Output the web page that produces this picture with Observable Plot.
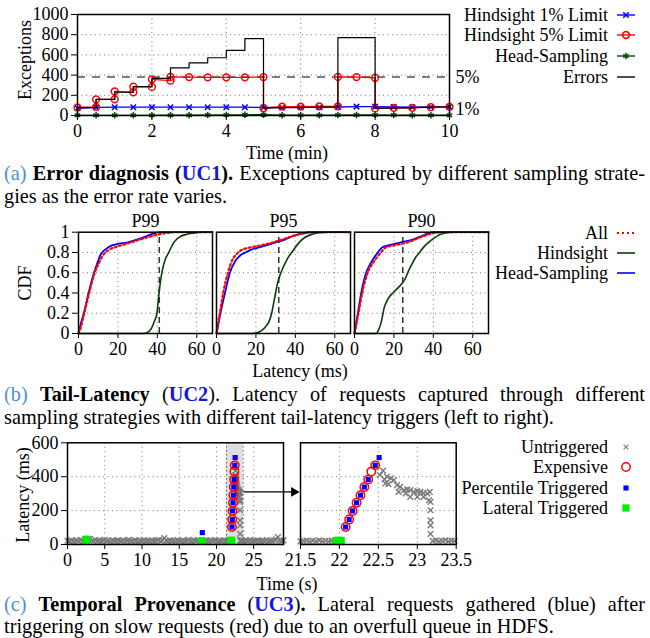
<!DOCTYPE html>
<html><head><meta charset="utf-8">
<script src="https://cdn.jsdelivr.net/npm/d3@7"></script>
<script src="https://cdn.jsdelivr.net/npm/@observablehq/plot@0.6"></script>
<style>
body{margin:0;background:#fff;}
#root{position:relative;width:650px;height:638px;overflow:hidden;font-family:"Liberation Serif",serif;color:#000;background:#fff;}
.ylab{position:absolute;transform:translate(-50%,-50%) rotate(-90deg);font-size:18px;white-space:nowrap;}
.xlab{position:absolute;transform:translate(-50%,-50%);font-size:18px;white-space:nowrap;}
.leg{position:absolute;font-size:18px;line-height:22px;white-space:nowrap;text-align:right;}
.cap{position:absolute;left:4px;width:641px;font-size:20.3px;line-height:22px;text-align:justify;text-align-last:justify;white-space:normal;}
.cap.last{text-align-last:left;}
.measure{position:absolute;visibility:hidden;white-space:nowrap;font-size:20.3px;left:0;top:0;}
.lk{color:#4a8fe0;}
.uc{color:#1515e6;font-weight:bold;}
.plt{position:absolute;}
</style></head>
<body><div id="root"></div>
<script>
// ---------- (a) Error diagnosis ----------
const timeMin = [0,0.5,1,1.5,2,2.5,3,3.5,4,4.5,5,5.5,6,6.5,7,7.5,8,8.5,9,9.5,10];
const hs1Vals = [72,80,82,82,82,82,82,82,82,82,80,80,82,82,84,88,88,84,82,84,86];
const headVals = [2,2,2,2,2,3,3,4,5,7,8,3,3,3,4,5,6,4,3,3,3];
const hs5Pts = [[0,80],[0.5,85],[0.5,160],[1,160],[1,238],[1.5,230],[1.5,285],[2,283],[2,358],[2.5,345],[2.5,382],[3,380],[3.5,378],[4,378],[4.5,378],[5,380],[5,72],[5.5,88],[6,88],[6.5,90],[7,90],[7,382],[7.5,380],[8,374],[8,70],[8.5,76],[9,76],[9.5,82],[10,86]];
const errT = [0,0.5,1,1.5,2,2.5,3,3.5,4,4.5,5,5.5,6,6.5,7,8,8.5,9,9.5,10];
const errV = [78,160,230,285,368,472,522,572,645,762,76,78,80,84,772,74,76,80,84,86];
const limitLines = [380];
const limitLabels = [{y:380,label:"5%"},{y:58,label:"1%"}];
const xTicksA = [0,2,4,6,8,10], yTicksA = [0,200,400,600,800,1000];

// ---------- (b) Tail latency CDFs ----------
const facets = ["P99","P95","P90"];
const triggerMs = [41,31.6,24.5];
const p99All = [[0,0],[1,0.05],[2.9,0.2],[5.4,0.4],[8.2,0.6],[10.5,0.7],[12,0.76],[15,0.82],[20,0.86],[25,0.89],[30,0.92],[35,0.95],[40,0.975],[45,0.993],[50,1],[68,1]];
const p99Hind = [[0,0],[33,0],[35,0.01],[37,0.05],[38.5,0.12],[39.8,0.2],[40.6,0.35],[41.5,0.5],[42.5,0.62],[44,0.73],[45.8,0.8],[48.4,0.9],[51,0.95],[55,0.98],[60,0.995],[63,1],[68,1]];
const p99Head = [[0,0],[1.5,0.12],[2.7,0.2],[5.1,0.4],[7.9,0.6],[10,0.72],[11,0.77],[13,0.82],[15,0.85],[19,0.88],[25,0.9],[30,0.93],[33,0.95],[37,0.98],[42,1],[68,1]];
const p95All = [[0,0],[1.7,0.2],[3.4,0.4],[5.8,0.6],[8.4,0.74],[10,0.78],[12.3,0.82],[15,0.84],[20,0.86],[27,0.89],[33.7,0.93],[40,0.97],[44,0.99],[47,1],[68,1]];
const p95Hind = [[0,0],[18,0],[21,0.01],[23,0.03],[25,0.07],[26.7,0.12],[28,0.2],[29,0.3],[30,0.4],[31,0.5],[32.3,0.58],[34,0.66],[36,0.74],[38.5,0.81],[42,0.9],[45,0.95],[48.6,0.98],[52,0.995],[57,1],[68,1]];
const p95Head = [[0,0],[2,0.2],[4.3,0.4],[6.8,0.6],[9.7,0.72],[12,0.77],[14.7,0.8],[18,0.83],[21.5,0.85],[28.5,0.89],[35,0.93],[40,0.97],[45,0.99],[50,1],[68,1]];
const p90All = [[0,0],[2,0.2],[3.9,0.4],[6.7,0.6],[9.5,0.7],[13.4,0.8],[16,0.85],[20,0.87],[27,0.9],[33.5,0.95],[40,0.99],[45,1],[68,1]];
const p90Hind = [[0,0],[11,0],[12.5,0.05],[13.4,0.1],[14.3,0.18],[15,0.25],[16.2,0.31],[17.6,0.36],[19.5,0.4],[21,0.43],[23,0.47],[24.4,0.5],[26,0.55],[27,0.6],[29,0.68],[31,0.75],[33,0.8],[35,0.85],[37,0.89],[39.5,0.93],[43.7,0.98],[47,0.995],[50,1],[68,1]];
const p90Head = [[0,0],[1.7,0.2],[3.4,0.4],[5.9,0.6],[8.4,0.7],[11.8,0.8],[14,0.85],[17,0.87],[23.5,0.9],[30,0.93],[35,0.97],[40,1],[68,1]];
const xTicksB = [0,20,40,60], yTicksB = [0,0.2,0.4,0.6,0.8,1];

// ---------- (c) Temporal provenance ----------
const untrigBase = [[0,22],[0.25,18],[0.5,25],[0.75,20],[1,16],[1.25,24],[1.5,19],[1.75,27],[2,21],[2.25,17],[2.5,23],[2.75,30],[3,34],[3.25,22],[3.5,18],[3.75,26],[4,20],[4.25,24],[4.5,17],[4.75,22],[5,28],[5.25,19],[5.5,23],[5.75,16],[6,25],[6.25,21],[6.5,18],[6.75,26],[7,22],[7.25,19],[7.5,24],[7.75,17],[8,23],[8.25,27],[8.5,20],[8.75,18],[9,25],[9.25,21],[9.5,16],[9.75,24],[10,20],[10.25,26],[10.5,18],[10.75,22],[11,19],[11.25,25],[11.5,21],[11.75,17],[12,23],[12.25,28],[12.5,20],[12.75,24],[13,38],[13.25,22],[13.5,18],[13.75,25],[14,20],[14.25,23],[14.5,17],[14.75,26],[15,21],[15.25,19],[15.5,24],[15.75,18],[16,22],[16.25,27],[16.5,20],[16.75,17],[17,24],[17.25,21],[17.5,26],[17.75,19],[18,23],[18.25,18],[18.5,25],[18.75,21],[19,17],[19.25,24],[19.5,20],[19.75,26],[20,22],[20.25,18],[20.5,23],[20.75,19],[21,25],[21.25,21],[21.5,18],[21.54,20],[21.58,23],[21.62,19],[21.66,22],[21.7,18],[21.74,24],[21.78,20],[21.82,22],[21.86,19],[21.9,23],[21.94,21],[21.98,20],[23.2,21],[23.24,24],[23.28,19],[23.32,22],[23.36,25],[23.4,20],[23.44,23],[23.48,21],[23.75,18],[24,24],[24.25,20],[24.5,26],[24.75,17],[25,22],[25.25,19],[25.5,25],[25.75,21],[26,17],[26.25,23],[26.5,20],[26.75,26],[27,18],[27.25,22],[27.5,19],[27.75,25],[28,30],[28.25,44],[28.5,22],[28.75,19],[29,24]];
const untrigSpike = [[22.52,410],[22.56,436],[22.58,384],[22.59,360],[22.61,400],[22.63,356],[22.66,390],[22.7,380],[22.74,350],[22.76,311],[22.78,340],[22.83,321],[22.85,301],[22.87,325],[22.91,321],[22.91,281],[22.96,311],[23.0,315],[23.0,281],[23.04,311],[23.08,305],[23.08,281],[23.13,301],[23.15,261],[23.16,311],[23.17,251],[23.17,202],[23.17,143],[23.17,113],[23.17,63]];
const expensive = [[22.08,103],[22.125,148],[22.17,198],[22.22,246],[22.27,291],[22.32,339],[22.37,384],[22.41,430],[22.46,467]];
const percentile = [[18.1,70],[22.08,103],[22.125,148],[22.17,198],[22.22,246],[22.27,291],[22.32,339],[22.37,384],[22.46,467],[22.51,513]];
const lateral = [[2.5,30],[18,20],[21.96,22],[21.99,24],[22.02,22]];
const zoomWindow = [{x1:21.35, x2:23.6}];
const zoomArrow = [{x1:23.6, x2:30.4, y:310}];
const xTicksCL = [0,5,10,15,20,25], xTicksCR = [21.5,22,22.5,23,23.5], yTicksC = [0,200,400,600];

// ---------- helpers ----------
const root = document.getElementById("root");
const FONT = "Liberation Serif";
const baseStyle = {fontFamily: FONT, fontSize: "18px", background: "transparent", overflow: "visible", color: "black"};
const dotted = {stroke: "#777", strokeOpacity: 1, strokeDasharray: "1,3.5", strokeWidth: 1};
function place(node, left, top) { node.classList.add("plt"); node.style.left = left + "px"; node.style.top = top + "px"; root.appendChild(node); }
const pts = (arr) => arr.map(([x, y]) => ({x, y}));

// ---------- Plot (a) ----------
const hs1 = timeMin.map((t, i) => ({x: t, y: hs1Vals[i]}));
const head = timeMin.map((t, i) => ({x: t, y: headVals[i]}));
const hs5 = pts(hs5Pts);
const errs = errT.map((t, i) => ({x: t, y: errV[i]}));
const plotA = Plot.plot({
  width: 650, height: 160, marginTop: 14, marginBottom: 45, marginLeft: 77, marginRight: 201,
  style: baseStyle,
  x: {domain: [0, 10]}, y: {domain: [0, 1000]},
  marks: [
    Plot.gridX(xTicksA.slice(1, -1), dotted),
    Plot.gridY(yTicksA.slice(1, -1), dotted),
    Plot.ruleY(limitLines, {stroke: "#555", strokeDasharray: "8,7", strokeWidth: 1.5}),
    Plot.text(limitLabels, {x: 10, y: "y", text: "label", textAnchor: "start", dx: 6, fontSize: 18}),
    Plot.line(hs1, {x: "x", y: "y", stroke: "#0000ff", strokeWidth: 1.3}),
    Plot.dot(hs1, {x: "x", y: "y", symbol: "times", stroke: "#0000ff", r: 2.6, strokeWidth: 1.5}),
    Plot.line(hs5, {x: "x", y: "y", stroke: "#ff0000", strokeWidth: 1.3}),
    Plot.dot(hs5, {x: "x", y: "y", symbol: "circle", stroke: "#ff0000", fill: "none", r: 3.4, strokeWidth: 1.5}),
    Plot.line(head, {x: "x", y: "y", stroke: "#0b4a0b", strokeWidth: 1.3}),
    Plot.dot(head, {x: "x", y: "y", symbol: "asterisk", stroke: "#0b4a0b", r: 3, strokeWidth: 1.5}),
    Plot.line(errs, {x: "x", y: "y", curve: "step-after", stroke: "black", strokeWidth: 1.2}),
    Plot.axisX({ticks: xTicksA, tickSize: 5, label: null, tickFormat: d => String(d)}),
    Plot.axisY({ticks: yTicksA, tickSize: 6, label: null, tickFormat: d => String(d)}),
    Plot.frame({stroke: "black", strokeWidth: 1.5})
  ]
});
place(plotA, 0, 0);

// ---------- Plot (b) ----------
const cdfRows = [];
const cdfSets = {P99: [p99All, p99Hind, p99Head], P95: [p95All, p95Hind, p95Head], P90: [p90All, p90Hind, p90Head]};
const seriesNames = ["All", "Hindsight", "Head-Sampling"];
for (const p of facets) cdfSets[p].forEach((arr, k) => arr.forEach(([x, y]) => cdfRows.push({p, s: seriesNames[k], x, y})));
const trig = facets.map((p, i) => ({p, x: triggerMs[i]}));
const plotB = Plot.plot({
  width: 650, height: 185, marginTop: 31.7, marginBottom: 52, marginLeft: 77.3, marginRight: 161,
  style: baseStyle,
  fx: {domain: facets, paddingInner: 0.029, paddingOuter: 0},
  x: {domain: [0, 68]}, y: {domain: [0, 1]},
  marks: [
    Plot.gridX(xTicksB.slice(1), dotted),
    Plot.gridY(yTicksB.slice(1, -1), dotted),
    Plot.ruleX(trig, {fx: "p", x: "x", y1: 0, y2: 1, stroke: "#333", strokeDasharray: "6,4", strokeWidth: 1.5}),
    Plot.line(cdfRows.filter(d => d.s === "Hindsight"), {fx: "p", x: "x", y: "y", stroke: "#0b3d0b", strokeWidth: 1.6, curve: "monotone-x"}),
    Plot.line(cdfRows.filter(d => d.s === "Head-Sampling"), {fx: "p", x: "x", y: "y", stroke: "#0000ff", strokeWidth: 1.8, curve: "monotone-x"}),
    Plot.line(cdfRows.filter(d => d.s === "All"), {fx: "p", x: "x", y: "y", stroke: "#ff0000", strokeWidth: 2.2, strokeDasharray: "2,2.6", curve: "monotone-x"}),
    Plot.axisFx({anchor: "top", tickSize: 0, tickPadding: 5, label: null}),
    Plot.axisX({ticks: xTicksB, tickSize: 5, label: null, tickFormat: d => String(d)}),
    Plot.axisY({ticks: yTicksB, tickSize: 6, label: null, tickFormat: d => String(d)}),
    Plot.frame({stroke: "black", strokeWidth: 1.5})
  ]
});
place(plotB, 0, 200);

// ---------- Plot (c) ----------
const untrig = pts(untrigBase.concat(untrigSpike));
const expd = pts(expensive), perc = pts(percentile), lat = pts(lateral);
function pointMarks(lo, hi) {
  const inX = d => d.x >= lo && d.x <= hi;
  return [
    Plot.dot(untrig.filter(inX), {x: "x", y: "y", symbol: "times", stroke: "#7a7a7a", r: 2.7, strokeWidth: 1.4}),
    Plot.dot(expd.filter(inX), {x: "x", y: "y", symbol: "circle", stroke: "#ff0000", fill: "none", r: 4.2, strokeWidth: 1.5}),
    Plot.dot(perc.filter(inX), {x: "x", y: "y", symbol: "square", fill: "#0000ff", r: 2.9}),
    Plot.dot(lat.filter(inX), {x: "x", y: "y", symbol: "square", fill: "#00ee00", r: 4.3})
  ];
}
const plotCL = Plot.plot({
  width: 290, height: 160, marginTop: 22.3, marginBottom: 36, marginLeft: 67, marginRight: 7,
  style: baseStyle,
  x: {domain: [0, 29]}, y: {domain: [0, 600]},
  marks: [
    Plot.rect(zoomWindow, {x1: "x1", x2: "x2", y1: 0, y2: 600, fill: "#dedede"}),
    Plot.gridX(xTicksCL.slice(1), dotted),
    Plot.gridY(yTicksC.slice(1, -1), dotted),
    Plot.ruleX(zoomWindow.flatMap(d => [d.x1, d.x2]), {stroke: "#222", strokeDasharray: "1,3", strokeWidth: 1}),
    ...pointMarks(0, 29),
    Plot.link(zoomArrow, {x1: "x1", x2: "x2", y1: "y", y2: "y", stroke: "black", strokeWidth: 1.3}),
    Plot.dot(zoomArrow, {x: "x2", y: "y", symbol: "triangle", rotate: 90, fill: "black", r: 3.6}),
    Plot.axisX({ticks: xTicksCL, tickSize: 5, label: null, tickFormat: d => String(d)}),
    Plot.axisY({ticks: yTicksC, tickSize: 6, label: null, tickFormat: d => String(d)}),
    Plot.frame({stroke: "black", strokeWidth: 1.5})
  ]
});
place(plotCL, 0, 420);
const plotCR = Plot.plot({
  width: 170, height: 160, marginTop: 22.3, marginBottom: 36, marginLeft: 10, marginRight: 4.3,
  style: baseStyle,
  x: {domain: [21.5, 23.5]}, y: {domain: [0, 600], axis: null},
  marks: [
    Plot.gridX(xTicksCR.slice(1, -1), dotted),
    Plot.gridY(yTicksC.slice(1, -1), dotted),
    ...pointMarks(21.5, 23.5),
    Plot.axisX({ticks: xTicksCR, tickSize: 5, label: null, tickFormat: d => String(d)}),
    Plot.frame({stroke: "black", strokeWidth: 1.5})
  ]
});
place(plotCR, 290, 420);

// ---------- axis titles ----------
function lab(cls, text, x, y) { const d = document.createElement("div"); d.className = cls; d.textContent = text; d.style.left = x + "px"; d.style.top = y + "px"; root.appendChild(d); }
lab("ylab", "Exceptions", 25, 60);
lab("xlab", "Time (min)", 287, 153);
lab("ylab", "CDF", 25, 283);
lab("xlab", "Latency (ms)", 300, 371);
lab("ylab", "Latency (ms)", 23, 495);
lab("xlab", "Time (s)", 287, 584);

// ---------- legends ----------
const sym = (type, r) => d3.symbol(type, r * r * Math.PI)();
function legend(items, ys) {
  items.forEach((it, i) => {
    const y = ys[i];
    const t = document.createElement("div");
    t.className = "leg"; t.textContent = it.label;
    t.style.right = "42px"; t.style.top = (y - 11) + "px";
    root.appendChild(t);
    const svg = d3.create("svg").attr("width", 24).attr("height", 16)
      .style("position", "absolute").style("left", "614px").style("top", (y - 8) + "px").style("overflow", "visible");
    it.draw(svg);
    root.appendChild(svg.node());
  });
}
const lineSym = (svg, color, dash, w) => svg.append("line").attr("x1", 3).attr("x2", 21).attr("y1", 8).attr("y2", 8).attr("stroke", color).attr("stroke-width", w || 1.4).attr("stroke-dasharray", dash || null);
const mark = (svg, d, fill, stroke, w) => svg.append("path").attr("d", d).attr("transform", "translate(12,8)").attr("fill", fill).attr("stroke", stroke).attr("stroke-width", w || 1.5);
legend([
  {label: "Hindsight 1% Limit", draw: s => { lineSym(s, "#0000ff"); mark(s, sym(d3.symbolTimes, 2.6), "none", "#0000ff"); }},
  {label: "Hindsight 5% Limit", draw: s => { lineSym(s, "#ff0000"); mark(s, sym(d3.symbolCircle, 3.4), "none", "#ff0000"); }},
  {label: "Head-Sampling", draw: s => { lineSym(s, "#0b4a0b"); mark(s, sym(d3.symbolAsterisk, 3), "none", "#0b4a0b"); }},
  {label: "Errors", draw: s => { lineSym(s, "black"); }}
], [15, 35, 56, 77]);
legend([
  {label: "All", draw: s => lineSym(s, "#ff0000", "2,3", 2)},
  {label: "Hindsight", draw: s => lineSym(s, "#0b3d0b", null, 1.6)},
  {label: "Head-Sampling", draw: s => lineSym(s, "#0000ff", null, 1.6)}
], [233, 253, 273]);
legend([
  {label: "Untriggered", draw: s => mark(s, sym(d3.symbolTimes, 2.3), "none", "#7a7a7a", 1.1)},
  {label: "Expensive", draw: s => mark(s, sym(d3.symbolCircle, 4.2), "none", "#ff0000", 1.5)},
  {label: "Percentile Triggered", draw: s => mark(s, sym(d3.symbolSquare, 2.9), "#0000ff", "none")},
  {label: "Lateral Triggered", draw: s => mark(s, sym(d3.symbolSquare, 4.1), "#00ee00", "none")}
], [447, 467, 488, 508]);

// ---------- captions ----------
const CAPW = 641;
function cap(html, baseline, last) {
  const m = document.createElement("span");
  m.className = "measure"; m.innerHTML = html;
  root.appendChild(m);
  const w = m.getBoundingClientRect().width;
  const n = m.textContent.length;
  root.removeChild(m);
  const d = document.createElement("div");
  d.className = "cap" + (last ? " last" : "");
  d.innerHTML = html;
  if (w > CAPW - 2) { d.style.letterSpacing = ((CAPW - 3 - w) / n).toFixed(3) + "px"; d.style.whiteSpace = "nowrap"; d.style.textAlignLast = "left"; }
  d.style.top = (baseline - 17) + "px";
  root.appendChild(d);
}
cap('<span class="lk">(a)</span> <b>Error diagnosis (<span class="uc">UC1</span>).</b> Exceptions captured by different sampling strate-', 179);
cap('gies as the error rate varies.', 202, true);
cap('<span class="lk">(b)</span> <b>Tail-Latency</b> (<span class="uc">UC2</span>). Latency of requests captured through different', 400);
cap('sampling strategies with different tail-latency triggers (left to right).', 423, true);
cap('<span class="lk">(c)</span> <b>Temporal Provenance</b> (<span class="uc">UC3</span>)<b>.</b> Lateral requests gathered (blue) after', 610);
cap('triggering on slow requests (red) due to an overfull queue in HDFS.', 632, true);
</script>
</body></html>
